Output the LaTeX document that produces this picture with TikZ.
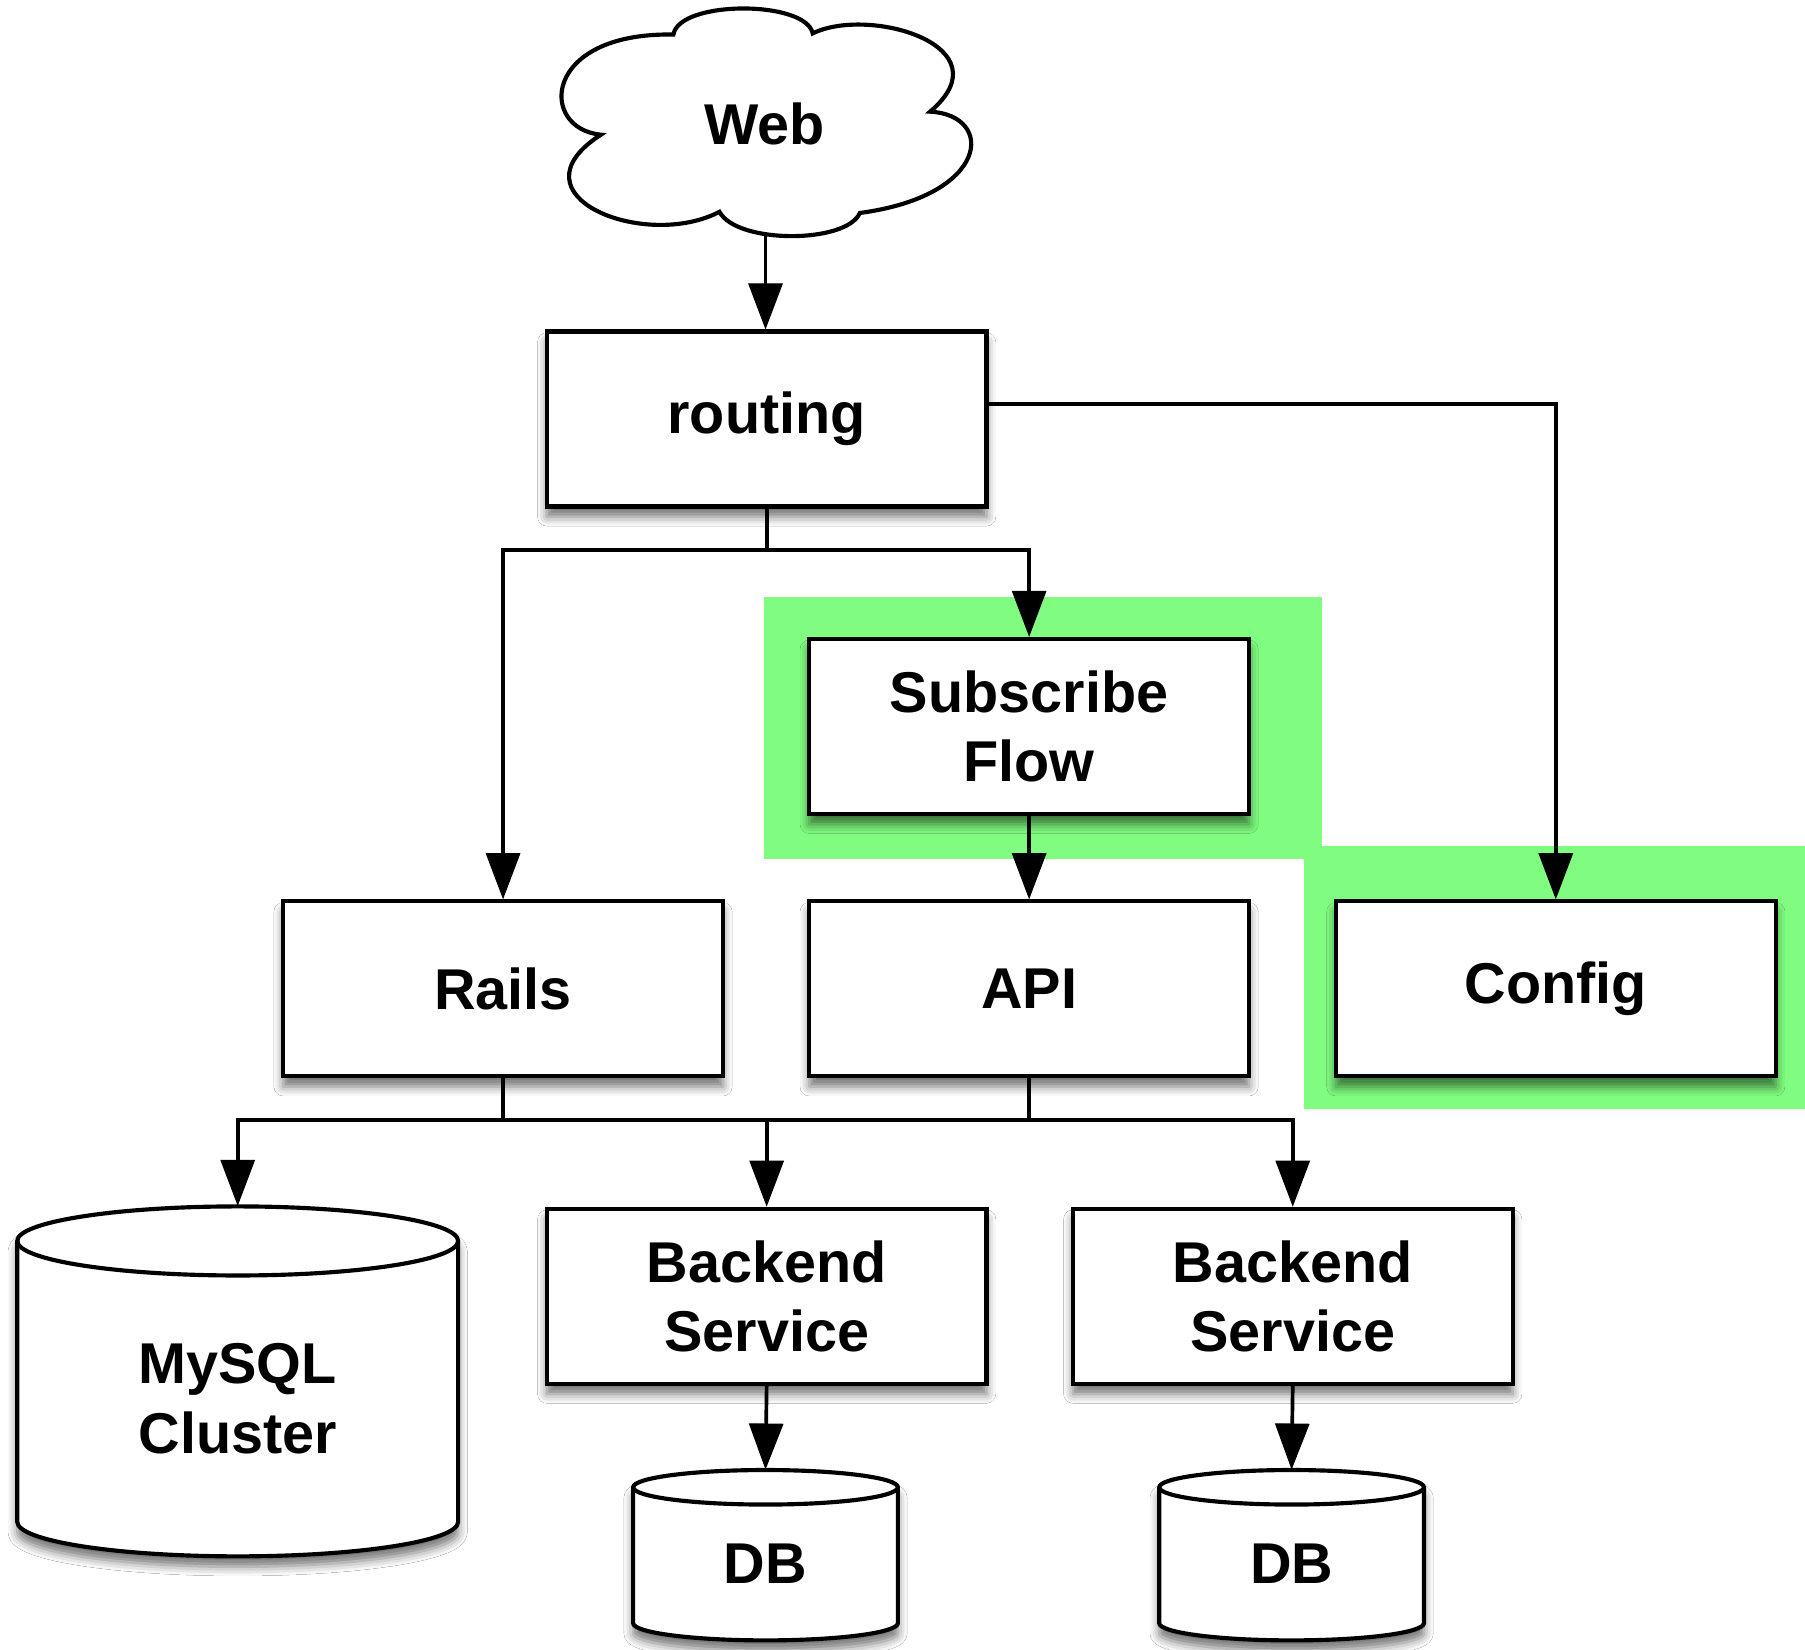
\documentclass[tikz,border=0pt]{standalone}
\usepackage{fontspec}
\setmainfont{Liberation Sans}
\usetikzlibrary{arrows.meta,shadows.blur,calc}
\definecolor{hl}{RGB}{128,252,128}
% cylinder outline: xl, xr, y of top ellipse centre, y of bottom ellipse centre, rx, ry
\newcommand\cylpath[6]{%
  \path[cylline] (#1,#3) -- (#1,#4)
     arc[start angle=180,end angle=360,x radius=#5,y radius=#6]
     -- (#2,#3)
     arc[start angle=0,end angle=180,x radius=#5,y radius=#6] -- cycle;
  \draw[line width=1.8pt] (#1,#3)
     arc[start angle=180,end angle=360,x radius=#5,y radius=#6];}
\begin{document}
\begin{tikzpicture}[x=0.5pt,y=-0.5pt,
  lbl/.style={font=\fontsize{25}{30}\selectfont\bfseries, align=center},
  shd/.style={blur shadow={shadow xshift=0pt, shadow yshift=-4.5pt, shadow blur radius=4pt, shadow opacity=55}},
  box/.style={lbl, draw, line width=1.8pt, fill=white, minimum width=191pt,
    minimum height=76pt, inner sep=0pt, shd},
  conn/.style={draw=black, line width=1.6pt, -{Triangle[length=20pt,width=15pt,fill=black,line width=0.5pt]}},
  plain/.style={draw=black, line width=1.6pt},
  cylbox/.style={lbl, inner sep=0pt},
  cylline/.style={draw, line width=1.8pt, fill=white, shd},
  cloudline/.style={draw, line width=1.8pt, fill=white, line join=miter}]
\fill[white] (0,0) rectangle (1568,1433);
\useasboundingbox (0,0) rectangle (1568,1433);
% highlights
\fill[hl] (664,519) rectangle (1148,746);
\fill[hl] (1133,735) rectangle (1568,963);
% cloud outline
\path[cloudline] (522,117) .. controls (468,112) and (470,28) .. (585,30)
  .. controls (590,0) and (700,0) .. (706,29)
  .. controls (755,5) and (875,40) .. (808,97)
  .. controls (865,100) and (860,170) .. (747,185)
  .. controls (735,212) and (640,212) .. (625,184)
  .. controls (560,218) and (440,170) .. (522,117) -- cycle;
% cylinder bodies
\cylpath{15}{398}{1078}{1322}{95.75pt}{15pt}
\cylpath{550}{780}{1292}{1410}{57.5pt}{7.5pt}
\cylpath{1007}{1237}{1292}{1410}{57.5pt}{7.5pt}
% nodes
\node[lbl, inner sep=0pt] (web) at (664,108) {Web};
\node[box] (routing) at (666,364) {routing};
\node[box] (subscribe) at (894,631) {Subscribe\\Flow};
\node[box] (rails) at (437,859) {Rails};
\node[box] (api) at (894,859) {API};
\node[box] (config) at (1351.5,859) {Config};
\node[box] (back1) at (666,1126) {Backend\\Service};
\node[box] (back2) at (1123,1126) {Backend\\Service};
\node[cylbox, minimum width=191.5pt, minimum height=137pt] (mysql) at (206.5,1215) {MySQL\\Cluster};
\node[cylbox, minimum width=115pt, minimum height=66.5pt] (db1) at (665,1358.5) {DB};
\node[cylbox, minimum width=115pt, minimum height=66.5pt] (db2) at (1122,1358.5) {DB};
\coordinate (cloudbot) at (665,203);
\coordinate (mysqltop) at ([yshift=15pt]mysql.north);
\coordinate (db1top) at ([yshift=7.5pt]db1.north);
\coordinate (db2top) at ([yshift=7.5pt]db2.north);
\coordinate (j1) at (666,478);
\coordinate (j2) at (437,973);
\coordinate (j3) at (894,973);
% connectors
\draw[conn] (cloudbot) -- (cloudbot |- routing.north);
\draw[conn] ([yshift=6.5pt]routing.east) -| (config.north);
\draw[plain] (routing.south) -- (j1);
\draw[conn] (j1) -| (rails.north);
\draw[conn] (j1) -| (subscribe.north);
\draw[conn] (subscribe.south) -- (api.north);
\draw[plain] (rails.south) -- (j2);
\draw[plain] (api.south) -- (j3);
\draw[plain] (j2) -- (j3);
\draw[conn] (j2) -| (mysqltop);
\draw[conn] (j2) -| (back1.north);
\draw[conn] (j3) -| (back2.north);
\draw[conn] (back1.south) -- (db1top);
\draw[conn] (back2.south) -- (db2top);
\end{tikzpicture}
\end{document}
